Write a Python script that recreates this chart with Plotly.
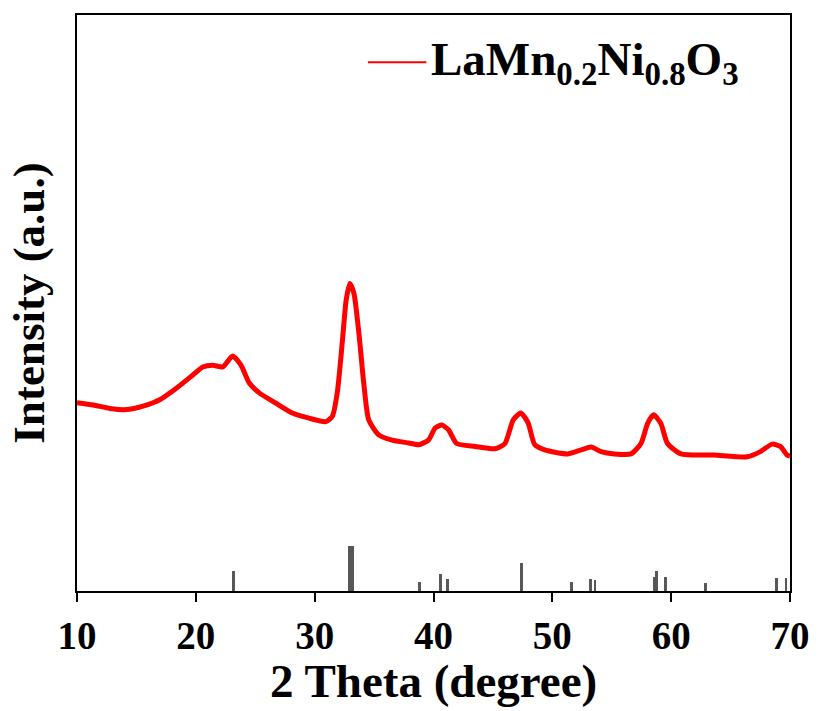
import plotly.graph_objects as go

# Measured XRD pattern of LaMn0.2Ni0.8O3 (2-theta in degrees, intensity in a.u.)
two_theta = [10.00, 11.37, 12.77, 14.16, 15.56, 16.96, 18.36, 19.75, 20.58, 21.42,
             22.26, 23.10, 23.80, 24.50, 25.34, 26.74, 28.13, 29.53, 30.93, 31.48,
             31.90, 32.32, 32.65, 32.96, 33.30, 33.72, 34.13, 34.55, 35.39, 36.51,
             37.91, 38.74, 39.58, 40.14, 40.70, 41.26, 41.95, 43.50, 45.17, 46.01,
             46.71, 47.35, 47.96, 48.52, 49.36, 51.31, 52.43, 53.27, 54.10, 55.23,
             56.62, 57.46, 58.02, 58.52, 59.13, 59.69, 60.81, 63.61, 66.40, 67.51,
             68.49, 69.19, 69.75, 70.00]
intensity = [327, 323, 317, 315, 321, 332, 352, 375, 389, 392,
             389, 408, 392, 361, 344, 326, 309, 300, 294, 303,
             344, 431, 505, 534, 517, 448, 361, 297, 271, 262,
             257, 254, 262, 283, 288, 280, 256, 251, 247, 256,
             297, 309, 292, 254, 245, 238, 245, 250, 242, 238,
             238, 256, 291, 306, 291, 256, 238, 236, 233, 242,
             255, 251, 236, 234]

# Standard reference pattern (stick positions and relative heights)
ref_theta = [23.20, 32.90, 33.20, 38.83, 40.62, 41.15, 47.37, 51.63, 53.18, 53.59,
             58.56, 58.78, 59.50, 62.90, 68.83, 69.66]
ref_height = [35, 78, 78, 16, 30, 21, 49, 15, 21, 19,
              24, 35, 24, 14, 22, 22]

sample_name = "<b>LaMn<sub>0.2</sub>Ni<sub>0.8</sub>O<sub>3</sub></b>"
x_title = "<b>2 Theta (degree)</b>"
y_title = "<b>Intensity (a.u.)</b>"
x_ticks = [10, 20, 30, 40, 50, 60, 70]

serif = "Times New Roman, Liberation Serif, serif"

fig = go.Figure()
fig.add_trace(go.Bar(
    x=ref_theta, y=ref_height, width=0.24,
    marker=dict(color="#575757", line=dict(width=0)),
    showlegend=False, hoverinfo="skip",
))
fig.add_trace(go.Scatter(
    x=two_theta, y=intensity, mode="lines",
    line=dict(color="#ff0000", width=5, shape="spline", smoothing=0.6),
    showlegend=False,
))

# Sample label with a short line key in the upper right
fig.add_shape(type="line", xref="paper", yref="paper",
              x0=0.408, x1=0.490, y0=0.918, y1=0.918,
              line=dict(color="#ff0000", width=2))
fig.add_annotation(xref="paper", yref="paper", x=0.494, y=0.918,
                   xanchor="left", yanchor="middle", showarrow=False,
                   text=sample_name,
                   font=dict(family=serif, size=47, color="black"))

# X axis title placed under the tick labels
fig.add_annotation(xref="paper", yref="paper", x=0.5, y=-0.205,
                   xanchor="center", yanchor="bottom", showarrow=False,
                   text=x_title,
                   font=dict(family=serif, size=47, color="black"))

fig.update_layout(
    width=822, height=711,
    margin=dict(l=77, r=29, t=15, b=120),
    paper_bgcolor="white", plot_bgcolor="white",
    bargap=0,
    xaxis=dict(
        range=[10, 70], tickvals=x_ticks, ticktext=[str(v) for v in x_ticks],
        showline=True, linecolor="black", linewidth=2, mirror=True,
        ticks="outside", ticklen=9, tickwidth=2, tickcolor="black",
        showgrid=False, zeroline=False,
        tickfont=dict(family=serif, size=39, color="black", weight="bold"),
    ),
    yaxis=dict(
        range=[0, 1000],
        showline=True, linecolor="black", linewidth=2, mirror=True,
        ticks="", showticklabels=False, showgrid=False, zeroline=False,
        title=dict(text=y_title, standoff=16,
                   font=dict(family=serif, size=45, color="black")),
    ),
)

fig.write_html("out.html")
